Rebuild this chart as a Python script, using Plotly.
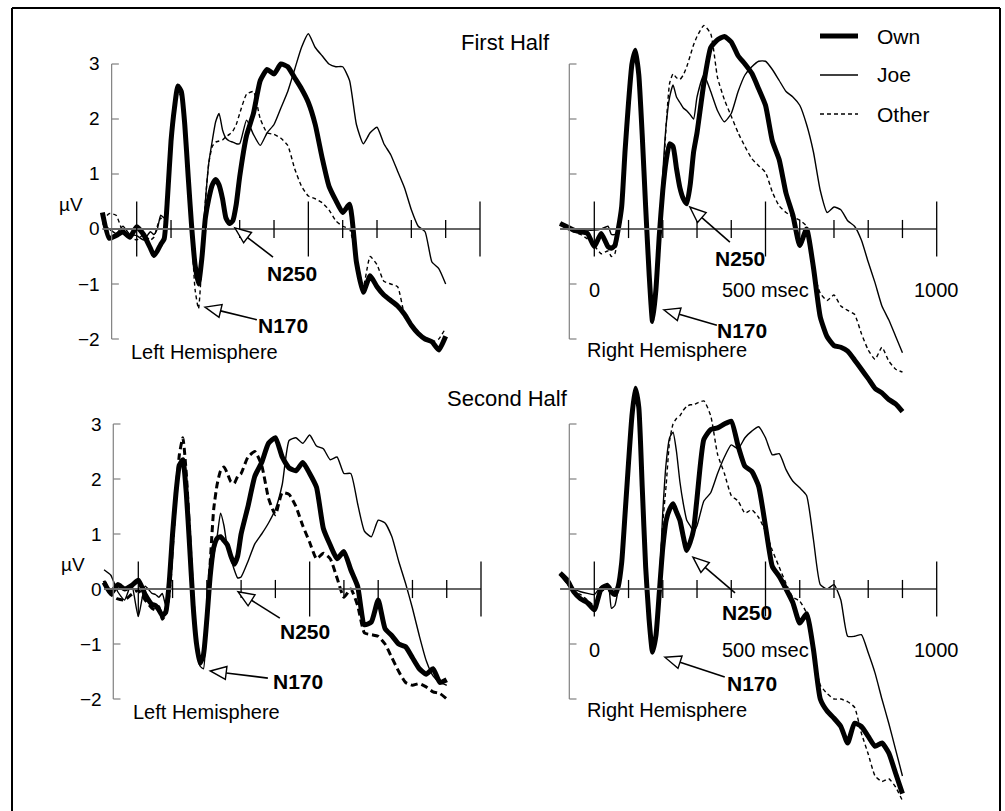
import math
import plotly.graph_objects as go

W, H = 1005, 811
FONT = "Liberation Sans, Arial, Helvetica, sans-serif"

# ---------------- data (ms, microvolts) ----------------
TIME_MS = [-100, -80, -60, -40, -20, 0, 20, 40,
           50, 60, 70, 80, 90, 100, 110, 120, 130, 140, 150, 160, 170, 180, 190, 200,
           210, 220, 230, 240, 250, 260, 270, 280, 290, 300,
           320, 340, 360, 380, 400, 420, 440, 460, 480, 500,
           520, 540, 560, 580, 600, 620, 640, 660, 680, 700,
           720, 740, 760, 780, 800, 820, 840, 860, 880, 900]

# First half, left hemisphere
TL_OWN = [0.3, -0.17, -0.12, -0.05, -0.15, 0.04, -0.1, -0.35,
          -0.48, -0.4, -0.28, -0.18, 0.6, 1.6, 2.2, 2.6, 2.5, 1.9, 0.95, 0.05, -0.65, -1.0, -0.52, 0.2,
          0.55, 0.8, 0.9, 0.8, 0.55, 0.2, 0.1, 0.15, 0.45, 0.95,
          1.7, 2.1, 2.7, 2.9, 2.82, 3.0, 2.95, 2.75, 2.55, 2.3,
          1.9, 1.3, 0.78, 0.52, 0.3, 0.45, -0.6, -1.15, -0.85, -1.05,
          -1.2, -1.3, -1.4, -1.55, -1.75, -1.9, -2.0, -2.05, -2.2, -1.95]
TL_JOE = [0.1, 0.0, -0.08, 0.05, -0.1, -0.12, -0.2, -0.05,
          -0.1, 0.0, 0.25, 0.2, 0.65, 1.55, 2.15, 2.55, 2.45, 1.85, 0.9, 0.0, -0.6, -0.95, -0.4, 0.5,
          1.2, 1.6, 1.95, 2.1, 1.8, 1.65, 1.6, 1.58, 1.55, 1.55,
          1.98, 1.72, 1.52, 1.75, 1.9, 2.2, 2.5, 2.9, 3.3, 3.55,
          3.3, 3.15, 3.0, 2.95, 2.95, 2.7, 1.9, 1.55, 1.75, 1.85,
          1.55, 1.35, 1.05, 0.75, 0.35, 0.05, -0.05, -0.6, -0.72, -1.0]
TL_OTHER = [0.15, 0.28, 0.25, -0.05, -0.15, -0.2, -0.1, -0.2,
            -0.15, 0.05, 0.2, 0.15, 0.7, 1.5, 2.1, 2.5, 2.4, 1.8, 0.85, -0.1, -1.1, -1.45, -0.6, 0.5,
            1.2, 1.5, 1.58, 1.6, 1.62, 1.68, 1.72, 1.78, 1.9, 2.1,
            2.45, 2.5, 2.0, 1.75, 1.72, 1.65, 1.52, 1.1, 0.78, 0.6,
            0.55, 0.48, 0.35, 0.15, 0.05, 0.0, -0.55, -1.05, -0.5, -0.65,
            -0.95, -1.0, -1.05, -1.55, -1.75, -1.9, -2.0, -2.05, -2.0, -1.8]

# First half, right hemisphere
TR_OWN = [0.1, 0.04, -0.02, -0.05, -0.08, -0.32, -0.08, -0.32,
          -0.35, -0.3, 0.0, 0.41, 1.44, 2.3, 3.0, 3.25, 2.8, 1.7, 0.4, -0.8, -1.68, -1.1, -0.1, 0.7,
          1.25, 1.55, 1.5, 1.1, 0.75, 0.55, 0.46, 0.8, 1.4, 1.75,
          2.65, 3.3, 3.44, 3.5, 3.4, 3.15, 3.0, 2.83, 2.55, 2.25,
          1.6, 1.26, 0.65, 0.25, -0.3, 0.0, -0.7, -1.6, -1.96, -2.12,
          -2.15, -2.22, -2.38, -2.55, -2.72, -2.9, -2.98, -3.1, -3.18, -3.32]
TR_JOE = [0.1, 0.0, 0.0, 0.0, -0.02, -0.02, 0.0, 0.05,
          -0.1, -0.1, 0.0, 0.4, 1.4, 2.25, 2.95, 3.2, 2.75, 1.65, 0.35, -0.7, -1.4, -1.0, -0.2, 1.0,
          1.9, 2.4, 2.62, 2.4, 2.3, 2.2, 2.15, 2.08, 2.0, 2.4,
          2.8, 2.5, 2.15, 1.95, 2.1, 2.5, 2.8, 2.95, 3.05, 3.05,
          2.9, 2.7, 2.5, 2.4, 2.25, 1.9, 1.4, 0.7, 0.3, 0.4,
          0.35, 0.15, 0.05, -0.2, -0.6, -0.98, -1.4, -1.65, -1.95, -2.25]
TR_OTHER = [0.1, 0.0, -0.05, -0.1, -0.18, -0.3, -0.45, -0.4,
            -0.5, -0.45, -0.1, 0.4, 1.4, 2.25, 2.95, 3.2, 2.75, 1.65, 0.35, -0.75, -1.6, -1.1, -0.1, 0.8,
            1.9, 2.65, 2.82, 2.75, 2.72, 2.8, 2.95, 3.15, 3.35, 3.5,
            3.7, 3.55, 2.75, 2.35, 2.05, 1.75, 1.5, 1.28, 1.15, 1.03,
            0.67, 0.42, 0.3, 0.22, 0.16, 0.05, -0.75, -1.17, -1.3, -1.2,
            -1.4, -1.48, -1.55, -1.9, -2.2, -2.37, -2.15, -2.4, -2.55, -2.6]

# Second half, left hemisphere
BL_OWN = [0.12, -0.08, 0.08, 0.0, 0.06, 0.16, -0.1, -0.28,
          -0.3, -0.38, -0.48, -0.42, 0.1, 1.0, 1.75, 2.25, 2.35, 1.75, 0.75, -0.3, -1.0, -1.35, -1.2, -0.55,
          0.25, 0.75, 0.92, 0.95, 0.88, 0.8, 0.6, 0.45, 0.6, 1.0,
          1.5, 2.05, 2.3, 2.65, 2.75, 2.4, 2.2, 2.15, 2.3, 2.1,
          1.85, 1.1, 0.8, 0.55, 0.68, 0.35, 0.05, -0.65, -0.6, -0.2,
          -0.72, -0.85, -1.0, -1.05, -1.25, -1.45, -1.55, -1.45, -1.7, -1.65]
BL_JOE = [0.35, 0.25, -0.05, -0.2, 0.1, -0.5, 0.05, -0.08,
          -0.1, -0.15, -0.08, -0.3, 0.2, 1.0, 1.7, 2.2, 2.3, 1.7, 0.7, -0.35, -1.05, -1.4, -1.45, -0.6,
          0.2, 0.6, 0.95, 1.38, 1.15, 0.75, 0.55, 0.35, 0.2, 0.22,
          0.5, 0.82, 1.0, 1.2, 1.45, 1.9, 2.7, 2.75, 2.65, 2.8,
          2.6, 2.55, 2.35, 2.4, 2.1, 2.1, 1.55, 1.05, 0.95, 1.25,
          1.2, 0.95, 0.5, 0.1, -0.35, -0.85, -1.3, -1.58, -1.7, -1.75]
BL_OTHER = [0.15, -0.1, -0.18, -0.2, -0.1, -0.02, -0.2, -0.35,
            -0.38, -0.32, -0.55, -0.45, -0.1, 0.8, 1.75, 2.45, 2.75, 2.1, 1.0, -0.2, -0.95, -1.28, -1.2, -0.55,
            0.5, 1.45, 1.9, 2.15, 2.22, 2.1, 1.95, 1.92, 2.05, 2.1,
            2.4, 2.5, 2.25, 1.65, 1.35, 1.75, 1.72, 1.5, 1.15, 0.85,
            0.55, 0.65, 0.55, 0.2, -0.15, 0.0, -0.3, -0.8, -0.83, -0.86,
            -1.0, -1.25, -1.5, -1.7, -1.75, -1.72, -1.78, -1.87, -1.9, -2.0]

# Second half, right hemisphere
BR_OWN = [0.29, 0.17, -0.05, -0.18, -0.25, -0.38, 0.0, 0.05,
          -0.05, -0.1, 0.05, 0.48, 1.38, 2.3, 3.15, 3.65, 3.3, 1.85, 0.4, -0.55, -1.15, -0.85, -0.05, 0.75,
          1.25, 1.45, 1.55, 1.4, 1.25, 0.95, 0.7, 0.85, 1.08, 1.65,
          2.72, 2.9, 2.93, 3.0, 3.05, 2.6, 2.23, 2.14, 1.87, 1.14,
          0.41, 0.23, 0.0, -0.25, -0.62, -0.45, -1.1, -2.0, -2.22, -2.35,
          -2.5, -2.8, -2.44, -2.5, -2.68, -2.86, -2.8, -2.98, -3.35, -3.72]
BR_JOE = [0.25, 0.1, 0.0, -0.05, -0.08, -0.1, 0.05, 0.1,
          -0.35, -0.3, 0.0, 0.45, 1.35, 2.25, 3.1, 3.55, 3.2, 1.8, 0.4, -0.55, -1.1, -0.8, 0.1, 1.4,
          2.3, 2.75, 2.85, 2.5, 1.95, 1.55, 1.25, 1.15, 1.05, 1.15,
          1.6, 1.75, 2.1, 2.4, 2.62, 2.55, 2.75, 2.87, 2.95, 2.75,
          2.44, 2.46, 2.17, 1.96, 1.84, 1.7, 0.9, 0.08, 0.0, 0.08,
          -0.2, -0.86, -0.86, -0.83, -1.16, -1.53, -2.0, -2.44, -2.92, -3.4]
BR_OTHER = [0.29, 0.1, -0.05, -0.1, -0.2, -0.3, -0.05, 0.0,
            -0.1, -0.1, 0.05, 0.45, 1.35, 2.25, 3.1, 3.55, 3.2, 1.8, 0.4, -0.55, -1.1, -0.8, 0.1, 1.2,
            1.9, 2.7, 3.0, 3.1, 3.15, 3.25, 3.32, 3.35, 3.35, 3.38,
            3.42, 3.15, 2.45, 2.1, 1.7, 1.6, 1.38, 1.44, 1.3, 1.05,
            0.7, 0.4, 0.1, -0.15, -0.22, -0.44, -1.15, -1.75, -1.9, -2.0,
            -2.0, -2.05, -2.15, -2.62, -3.0, -3.4, -3.5, -3.45, -3.6, -3.85]

SERIES_NAMES = ["Own", "Joe", "Other"]
Y_TICKS = [3, 2, 1, 0, -1, -2]
Y_TICK_LABELS = ["3", "2", "1", "0", "\u22121", "\u22122"]
X_TICKS = [0, 100, 200, 300, 400, 500, 600, 700, 800, 900, 1000]
X_MAJOR_TICKS = [0, 500, 1000]
X_TICK_LABELS = ["0", "500 msec", "1000"]
TITLES = ["First Half", "Second Half"]

# ---------------- layout of the four panels ----------------
# x0: pixel of 0 ms, sx: px per ms, y0: pixel of 0 uV, sy: px per uV
PANELS = [
    dict(key="", x0=136.7, sx=0.3433, y0=229, sy=55, dx=(40, 500), dy=(15, 425),
         data=(TL_OWN, TL_JOE, TL_OTHER), side="left", other_w=1.4, other_dash="4px,3px",
         n250=((286, 0.02), (397, -0.51), (453, -0.8)), n170=((199, -1.42), (350, -1.65), (426, -1.75))),
    dict(key="2", x0=594.3, sx=0.3424, y0=229, sy=55, dx=(530, 1000), dy=(15, 425),
         data=(TR_OWN, TR_JOE, TR_OTHER), side="right", other_w=1.4, other_dash="4px,3px",
         n250=((279, 0.4), (396, -0.24), (425, -0.53)), n170=((203, -1.47), (358, -1.75), (431, -1.84))),
    dict(key="3", x0=138.3, sx=0.3427, y0=589, sy=55, dx=(40, 500), dy=(375, 805),
         data=(BL_OWN, BL_JOE, BL_OTHER), side="left", other_w=3.0, other_dash="7px,4px",
         n250=((291, -0.05), (413, -0.53), (486, -0.78)), n170=((210, -1.49), (378, -1.62), (466, -1.69))),
    dict(key="4", x0=594.3, sx=0.3424, y0=589, sy=55, dx=(530, 1000), dy=(375, 805),
         data=(BR_OWN, BR_JOE, BR_OTHER), side="right", other_w=1.4, other_dash="4px,3px",
         n250=((288, 0.58), (411, -0.07), (446, -0.42)), n170=((206, -1.24), (381, -1.6), (460, -1.71))),
]

XAXIS_COLOR = "#666666"
YAXIS_COLOR = "#808080"
YAXIS_MS = -73
fig = go.Figure()
shapes = []
annotations = []


def px(p, t, v):
    return p["x0"] + p["sx"] * t, p["y0"] - p["sy"] * v


def paper(xp, yp):
    return xp / W, 1 - yp / H


layout = dict(width=W, height=H, margin=dict(l=0, r=0, t=0, b=0),
              paper_bgcolor="white", plot_bgcolor="rgba(0,0,0,0)", showlegend=False,
              font=dict(family=FONT, color="black"))

for p in PANELS:
    k = p["key"]
    xr = [(p["dx"][0] - p["x0"]) / p["sx"], (p["dx"][1] - p["x0"]) / p["sx"]]
    yr = [(p["y0"] - p["dy"][1]) / p["sy"], (p["y0"] - p["dy"][0]) / p["sy"]]
    layout["xaxis" + k] = dict(domain=[p["dx"][0] / W, p["dx"][1] / W], range=xr, visible=False,
                               fixedrange=True, anchor="y" + k)
    layout["yaxis" + k] = dict(domain=[1 - p["dy"][1] / H, 1 - p["dy"][0] / H], range=yr, visible=False,
                               fixedrange=True, anchor="x" + k)
    xref, yref = "x" + k, "y" + k

    # vertical (uV) axis with inward ticks
    shapes.append(dict(type="line", xref=xref, yref=yref, x0=YAXIS_MS, x1=YAXIS_MS, y0=-2, y1=3,
                       line=dict(color=YAXIS_COLOR, width=1.2)))
    for v in Y_TICKS:
        shapes.append(dict(type="line", xref=xref, yref=yref, x0=YAXIS_MS, x1=YAXIS_MS + 21, y0=v, y1=v,
                           line=dict(color=YAXIS_COLOR, width=1.2)))
    # time axis through zero
    shapes.append(dict(type="line", xref=xref, yref=yref, x0=-100, x1=1000, y0=0, y1=0,
                       line=dict(color=XAXIS_COLOR, width=2)))
    for t in X_TICKS:
        h = 0.5 if t in X_MAJOR_TICKS else 0.165
        shapes.append(dict(type="line", xref=xref, yref=yref, x0=t, x1=t, y0=-h, y1=h,
                           line=dict(color="black", width=1.3)))

    own, joe, other = p["data"]
    fig.add_trace(go.Scatter(x=TIME_MS, y=other, xaxis=xref, yaxis=yref, mode="lines", name="Other",
                             line=dict(color="black", width=p["other_w"], dash=p["other_dash"],
                                       shape="spline", smoothing=0.5), hoverinfo="skip"))
    fig.add_trace(go.Scatter(x=TIME_MS, y=joe, xaxis=xref, yaxis=yref, mode="lines", name="Joe",
                             line=dict(color="black", width=1.4, shape="spline", smoothing=0.5),
                             hoverinfo="skip"))
    fig.add_trace(go.Scatter(x=TIME_MS, y=own, xaxis=xref, yaxis=yref, mode="lines", name="Own",
                             line=dict(color="black", width=5, shape="spline", smoothing=0.5),
                             hoverinfo="skip"))

    if p["side"] == "left":
        for v, lab in zip(Y_TICKS, Y_TICK_LABELS):
            annotations.append(dict(xref=xref, yref=yref, x=-100, y=v, text=lab, showarrow=False,
                                    xanchor="right", yanchor="middle", font=dict(size=19)))
        annotations.append(dict(xref=xref, yref=yref, x=-192, y=0.45, text="\u00b5V", showarrow=False,
                                xanchor="center", yanchor="middle", font=dict(size=19)))
        annotations.append(dict(xref=xref, yref=yref, x=-22, y=-2.23, text="Left Hemisphere",
                                showarrow=False, xanchor="left", yanchor="middle", font=dict(size=20)))
    else:
        for t, lab in zip(X_MAJOR_TICKS, X_TICK_LABELS):
            annotations.append(dict(xref=xref, yref=yref, x=t, y=-1.11, text=lab, showarrow=False,
                                    xanchor="center", yanchor="middle", font=dict(size=20)))
        annotations.append(dict(xref=xref, yref=yref, x=-28, y=-2.2, text="Right Hemisphere",
                                showarrow=False, xanchor="left", yanchor="middle", font=dict(size=20)))

    # component labels with hollow arrows
    for comp, name in ((p["n250"], "N250"), (p["n170"], "N170")):
        tip, tail, txt = comp
        annotations.append(dict(xref=xref, yref=yref, x=txt[0], y=txt[1], text="<b>%s</b>" % name,
                                showarrow=False, xanchor="center", yanchor="middle", font=dict(size=21)))
        tx, ty = px(p, *tip)
        qx, qy = px(p, *tail)
        dxv, dyv = tx - qx, ty - qy
        L = math.hypot(dxv, dyv)
        ux, uy = dxv / L, dyv / L
        hl, hw = 16.0, 6.5
        bx, by = tx - ux * hl, ty - uy * hl
        nx, ny = -uy, ux
        a = paper(qx, qy)
        b = paper(bx, by)
        shapes.append(dict(type="line", xref="paper", yref="paper", x0=a[0], y0=a[1], x1=b[0], y1=b[1],
                           line=dict(color="black", width=1.6)))
        p1 = paper(tx, ty)
        p2 = paper(bx + nx * hw, by + ny * hw)
        p3 = paper(bx - nx * hw, by - ny * hw)
        shapes.append(dict(type="path", xref="paper", yref="paper",
                           path="M %f,%f L %f,%f L %f,%f Z" % (p1[0], p1[1], p2[0], p2[1], p3[0], p3[1]),
                           fillcolor="white", line=dict(color="black", width=1.4)))

# titles
annotations.append(dict(xref="paper", yref="paper", x=505 / W, y=1 - 43 / H, text=TITLES[0],
                        showarrow=False, xanchor="center", yanchor="middle", font=dict(size=22)))
annotations.append(dict(xref="paper", yref="paper", x=508 / W, y=1 - 398 / H, text=TITLES[1],
                        showarrow=False, xanchor="center", yanchor="middle", font=dict(size=22)))

# legend
LEG_Y = [36, 75, 114]
LEG_STYLE = [dict(width=5), dict(width=1.5), dict(width=1.5, dash="4px,3px")]
for name, ly, st in zip(SERIES_NAMES, LEG_Y, LEG_STYLE):
    a = paper(820, ly)
    b = paper(858, ly)
    shapes.append(dict(type="line", xref="paper", yref="paper", x0=a[0], y0=a[1], x1=b[0], y1=b[1],
                       line=dict(color="black", **st)))
    annotations.append(dict(xref="paper", yref="paper", x=875 / W, y=1 - ly / H, text=name,
                            showarrow=False, xanchor="left", yanchor="middle", font=dict(size=21)))

# frame (left, top, right edges)
for (x0p, y0p, x1p, y1p) in ((12, 8, 12, 820), (12, 8, 1000, 8), (1000, 8, 1000, 820)):
    a = paper(x0p, y0p)
    b = paper(x1p, y1p)
    shapes.append(dict(type="line", xref="paper", yref="paper", x0=a[0], y0=a[1], x1=b[0], y1=b[1],
                       line=dict(color="black", width=2)))

layout["shapes"] = shapes
layout["annotations"] = annotations
fig.update_layout(**layout)
fig.write_html("out.html", config={"displayModeBar": False},
               post_script="document.body.style.margin='0px';")
